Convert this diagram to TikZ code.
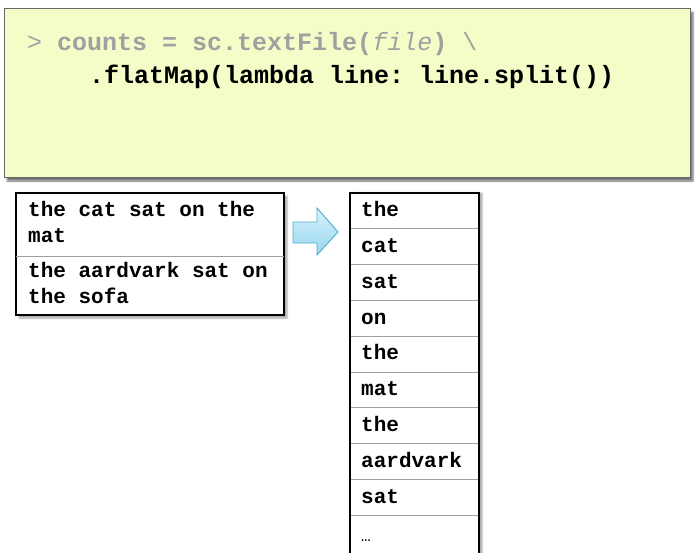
\documentclass[tikz,border=0pt]{standalone}
\usepackage{fontspec}
\setmonofont{Liberation Mono}
\usetikzlibrary{shadows.blur}
\definecolor{codebg}{RGB}{246,252,200}
\definecolor{codegray}{RGB}{160,160,160}
\definecolor{arrowlight}{RGB}{214,243,252}
\definecolor{arrowdark}{RGB}{150,214,238}
\definecolor{arrowedge}{RGB}{84,170,205}
\tikzset{
  codebox/.style={draw=gray!80!black, line width=1pt, fill=codebg,
    blur shadow={shadow xshift=3pt, shadow yshift=-4pt, shadow opacity=55, shadow blur steps=6}},
  databox/.style={draw=black, line width=1.8pt, fill=white,
    blur shadow={shadow xshift=3pt, shadow yshift=-3pt, shadow opacity=35, shadow blur steps=5}},
  rowline/.style={draw=gray!75, line width=0.9pt},
  codetext/.style={anchor=base west, inner sep=0pt, font=\fontsize{25}{25}\selectfont\ttfamily},
  celltext/.style={anchor=base west, inner sep=0pt, font=\fontsize{21}{21}\selectfont\ttfamily\bfseries},
}
\begin{document}
\begin{tikzpicture}[x=1pt, y=-1pt]
\useasboundingbox (0,0) rectangle (698,552);

% code panel
\path[codebox] (4,8) rectangle (690,177);
\node[codetext, text=codegray] (line1) at (27,50)
  {> {\bfseries counts = sc.textFile(}\textit{file}{\bfseries)} \textbackslash};
\node[codetext, text=black] (line2) at (89,83)
  {\bfseries .flatMap(lambda line: line.split())};

% input lines
\path[databox] (16,193) rectangle (284,315);
\draw[rowline] (16,256) -- (284,256);
\node[celltext] (in1a) at (28,216) {the cat sat on the};
\node[celltext] (in1b) at (28,242) {mat};
\node[celltext] (in2a) at (28,277) {the aardvark sat on};
\node[celltext] (in2b) at (28,303) {the sofa};

% block arrow
\draw[arrowedge, line width=0.9pt, top color=arrowlight, bottom color=arrowdark]
  (293,222) -- (317,222) -- (317,208) -- (338,232) -- (317,255) -- (317,243) -- (293,243) -- cycle;

% output words (column runs off the bottom)
\path[fill=white, blur shadow={shadow xshift=3pt, shadow yshift=0pt, shadow opacity=35, shadow blur steps=5}]
  (350,193) rectangle (479,560);
\foreach \y in {228.5,264,300,336,372,407.5,443,479,515}
  \draw[rowline] (350,\y) -- (479,\y);
\draw[black, line width=1.8pt] (350,560) -- (350,193) -- (479,193) -- (479,560);
\node[celltext] (w1) at (361,216) {the};
\node[celltext] (w2) at (361,252) {cat};
\node[celltext] (w3) at (361,288) {sat};
\node[celltext] (w4) at (361,324) {on};
\node[celltext] (w5) at (361,359) {the};
\node[celltext] (w6) at (361,395) {mat};
\node[celltext] (w7) at (361,431) {the};
\node[celltext] (w8) at (361,467) {aardvark};
\node[celltext] (w9) at (361,503) {sat};
\node[celltext, font=\fontsize{16}{16}\selectfont\ttfamily] (w10) at (361,541) {\dots};
\end{tikzpicture}
\end{document}
